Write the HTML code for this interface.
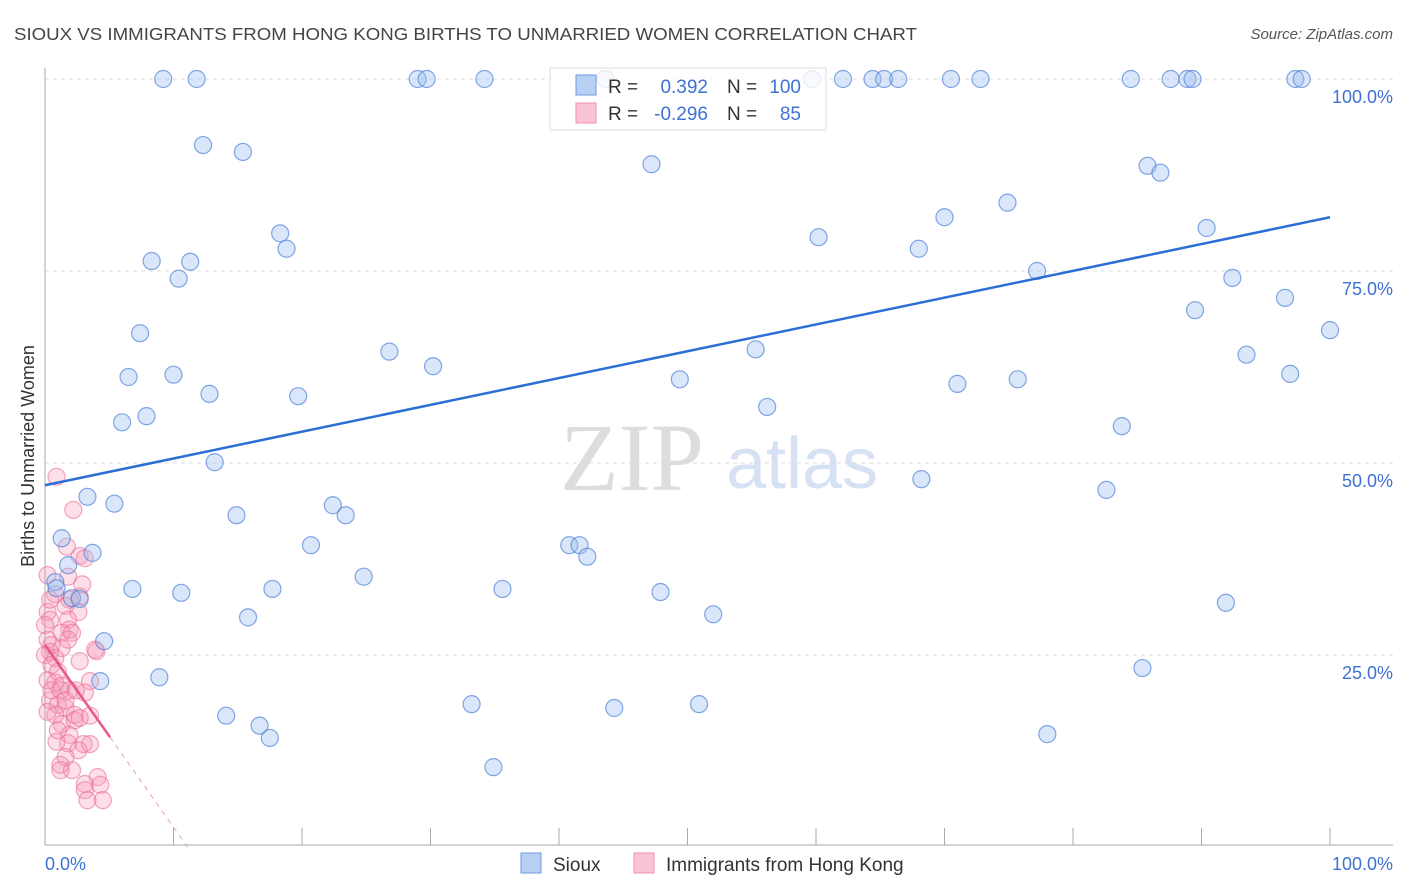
<!DOCTYPE html>
<html><head><meta charset="utf-8"><style>
body{margin:0;background:#fff;font-family:"Liberation Sans",sans-serif;}
svg{display:block}
</style></head><body>
<svg id="chart" width="1406" height="892">
<text x="14" y="40" font-size="17.5" fill="#444" textLength="903" lengthAdjust="spacingAndGlyphs">SIOUX VS IMMIGRANTS FROM HONG KONG BIRTHS TO UNMARRIED WOMEN CORRELATION CHART</text>
<text x="1393" y="39" font-size="15" fill="#555" font-style="italic" text-anchor="end">Source: ZipAtlas.com</text>
<text x="34" y="456" font-size="18" fill="#333" text-anchor="middle" transform="rotate(-90 34 456)">Births to Unmarried Women</text>
<g>
<text x="632" y="490" font-size="96" font-family="Liberation Serif,serif" fill="#ddd" text-anchor="middle">ZIP</text>
<text x="802" y="488" font-size="72" fill="#d6e2f4" text-anchor="middle">atlas</text>
</g>
<g id="grid"></g><g id="axes"></g><g id="pink"></g><g id="blue"></g><g id="lines"></g>
<g>
<rect x="550" y="68" width="276" height="62" fill="#fff" fill-opacity="0.8" stroke="#ddd"/>
<rect x="576" y="75" width="20" height="20" fill="#b8d0f4" stroke="#6c9ae0"/>
<rect x="576" y="103" width="20" height="20" fill="#fac4d4" stroke="#f090b0"/>
<text x="608" y="93" font-size="19" fill="#333">R =</text>
<text x="708" y="93" font-size="19" fill="#3d72d4" text-anchor="end">0.392</text>
<text x="727" y="93" font-size="19" fill="#333">N =</text>
<text x="801" y="93" font-size="19" fill="#3d72d4" text-anchor="end">100</text>
<text x="608" y="120" font-size="19" fill="#333">R =</text>
<text x="708" y="120" font-size="19" fill="#3d72d4" text-anchor="end">-0.296</text>
<text x="727" y="120" font-size="19" fill="#333">N =</text>
<text x="801" y="120" font-size="19" fill="#3d72d4" text-anchor="end">85</text>
</g>
<g>
<rect x="521" y="853" width="20" height="20" fill="#b8d0f4" stroke="#6c9ae0"/>
<text x="553" y="871" font-size="19" fill="#333">Sioux</text>
<rect x="634" y="853" width="20" height="20" fill="#fac4d4" stroke="#f090b0"/>
<text x="666" y="871" font-size="19" fill="#333">Immigrants from Hong Kong</text>
</g>
</svg>
<script>
const yTicks=[25,50,75,100];
const xTickLabels=["0.0%","100.0%"];
const blueX=[9.2,11.8,29.0,29.7,34.2,43.6,59.7,62.1,64.4,65.3,66.4,70.5,72.8,84.5,87.6,88.9,89.3,97.3,97.8,
12.3,15.4,47.2,85.8,86.8,74.9,70.0,90.4,18.3,18.8,60.2,68.0,8.3,11.3,10.4,77.2,92.4,96.5,89.5,100,7.4,26.8,55.3,93.5,30.2,6.5,10.0,49.4,71.0,75.7,96.9,12.8,19.7,56.2,7.9,6.0,83.8,13.2,68.2,82.6,3.3,5.4,22.4,14.9,23.4,1.3,20.7,40.8,41.6,42.2,3.7,1.8,24.8,0.8,0.9,6.8,17.7,10.6,35.6,47.9,2.1,2.7,91.9,15.8,52.0,4.6,85.4,8.9,4.3,33.2,50.9,44.3,14.1,16.7,17.5,78.0,34.9];
const blueY=[100,100,100,100,100,100,100,100,100,100,100,100,100,100,100,100,100,100,100,
91.4,90.5,88.9,88.7,87.8,83.9,82.0,80.6,79.9,77.9,79.4,77.9,76.3,76.2,74.0,75.0,74.1,71.5,69.9,67.3,66.9,64.5,64.8,64.1,62.6,61.2,61.5,60.9,60.3,60.9,61.6,59.0,58.7,57.3,56.1,55.3,54.8,50.1,47.9,46.5,45.6,44.7,44.5,43.2,43.2,40.2,39.3,39.3,39.3,37.8,38.3,36.7,35.2,34.5,33.7,33.6,33.6,33.1,33.6,33.2,32.4,32.3,31.8,29.9,30.3,26.8,23.3,22.1,21.6,18.6,18.6,18.1,17.1,15.8,14.2,14.7,10.4];
const pinkX=[0.9,2.2,1.7,2.7,3.1,0.2,1.8,2.9,0.8,2.7,1.9,1.6,0.2,2.6,0.4,1.8,1.9,1.3,2.1,0.2,0.5,1.3,0.4,0,0.8,4.0,2.7,0.5,1.0,0.2,0.8,1.3,1.9,3.5,3.1,0.4,1.0,1.6,2.3,0.8,0.2,3.5,1.3,1.9,1.8,0.9,3.0,3.5,2.6,1.6,1.2,2.1,4.1,3.1,4.3,3.1,3.3,4.5,1.2,2.3,0.5,1.2,1.6,2.7,1.0,0,0.4,3.9,1.8,2.4];
const pinkY=[48.2,43.9,39.1,37.9,37.6,35.4,35.2,34.2,32.9,32.6,32.2,31.4,30.6,30.6,29.6,29.6,28.3,27.9,27.9,27.0,26.3,25.9,25.4,25.0,24.6,25.5,24.2,23.7,22.8,21.7,21.4,21.0,20.4,21.6,20.1,19.1,18.5,18.1,17.2,17.2,17.6,17.1,16.0,14.6,13.5,13.7,13.4,13.4,12.6,11.7,10.7,10.0,9.1,8.2,8.1,7.4,6.1,6.1,10.0,16.5,20.4,20.4,19.1,16.8,15.2,28.9,32.2,25.7,27.0,20.4];
const blueTrend=[47.1,82.0];
const pinkTrend=[26.3,14.3,5.06];
const NS="http://www.w3.org/2000/svg";
const X=v=>45+v*12.85, Y=v=>847-v*7.68;
function mk(p,t,a){const e=document.createElementNS(NS,t);for(const k in a)e.setAttribute(k,a[k]);p.appendChild(e);return e;}
const grid=document.getElementById('grid'),axes=document.getElementById('axes');
yTicks.forEach(t=>{
 const l=mk(grid,'line',{x1:45,x2:1393,y1:Y(t),y2:Y(t),stroke:'#ddd','stroke-dasharray':'4 4'});
 
 
 const tx=mk(axes,'text',{x:1393,y:Y(t)+24,'font-size':18,fill:'#3d72d4','text-anchor':'end'});
 tx.textContent=t.toFixed(1)+'%';
 
 
});
const ya=mk(axes,'line',{x1:45,x2:45,y1:68,y2:845,stroke:'#aaa'});


const xa=mk(axes,'line',{x1:45,x2:1393,y1:845,y2:845,stroke:'#aaa'});


for(let i=1;i<=10;i++){const tk=mk(axes,'line',{x1:X(i*10),x2:X(i*10),y1:828,y2:845,stroke:'#aaa'});
 
 }
const xl0=mk(axes,'text',{x:45,y:870,'font-size':18,fill:'#3d72d4'});xl0.textContent=xTickLabels[0];


const xl1=mk(axes,'text',{x:1393,y:870,'font-size':18,fill:'#3d72d4','text-anchor':'end'});xl1.textContent=xTickLabels[1];


const pg=document.getElementById('pink');
pinkX.forEach((x,i)=>{const c=mk(pg,'circle',{cx:X(x),cy:Y(pinkY[i]),r:8.5,fill:'rgba(245,150,180,0.3)',stroke:'rgba(235,110,150,0.6)','stroke-width':1.2});
 
 });
const bg=document.getElementById('blue');
blueX.forEach((x,i)=>{const c=mk(bg,'circle',{cx:X(x),cy:Y(blueY[i]),r:8.5,fill:'rgba(150,185,240,0.35)',stroke:'rgba(80,130,215,0.7)','stroke-width':1.2});
 
 });
const lg=document.getElementById('lines');
const bl=mk(lg,'line',{x1:X(0),y1:Y(blueTrend[0]),x2:X(100),y2:Y(blueTrend[1]),stroke:'#2a6ed6','stroke-width':2.5});


const slope=(pinkTrend[1]-pinkTrend[0])/pinkTrend[2];
const x0=-pinkTrend[0]/slope;
const pl=mk(lg,'line',{x1:X(0),y1:Y(pinkTrend[0]),x2:X(pinkTrend[2]),y2:Y(pinkTrend[1]),stroke:'#e8578a','stroke-width':2.5});


const pd=mk(lg,'line',{x1:X(pinkTrend[2]),y1:Y(pinkTrend[1]),x2:X(x0),y2:Y(0),stroke:'#e8a0b8','stroke-width':1,'stroke-dasharray':'5 5'});


</script>
</body></html>
